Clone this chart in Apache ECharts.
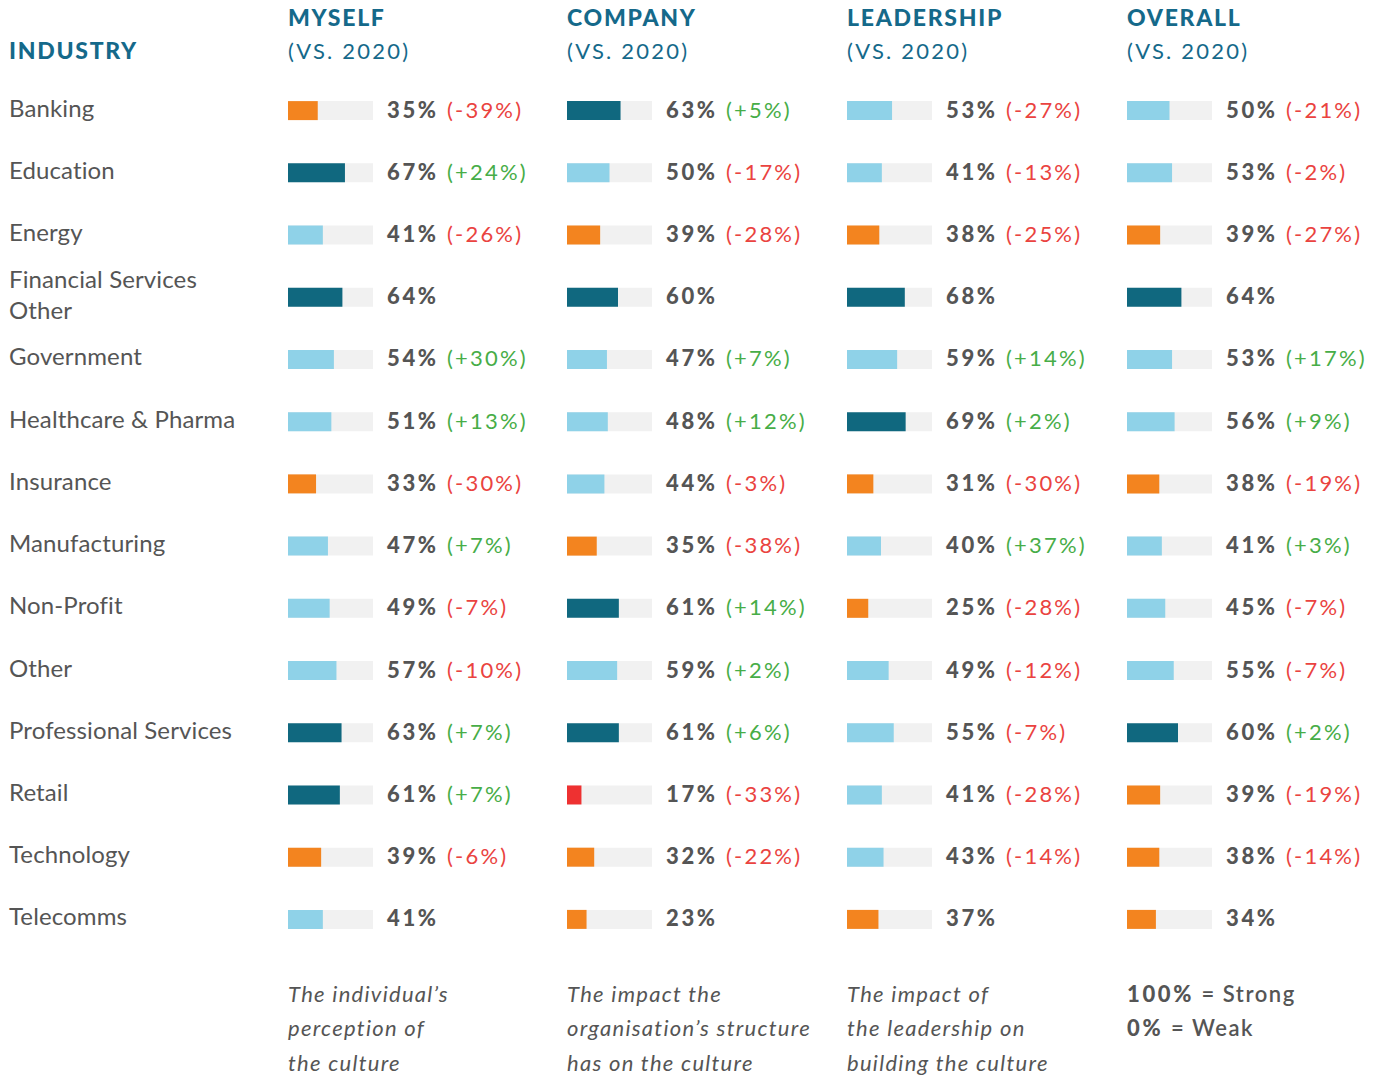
<!DOCTYPE html>
<html>
<head>
<meta charset="utf-8">
<script src="https://cdn.jsdelivr.net/npm/echarts@6/dist/echarts.min.js"></script>
<style>
  html, body { margin: 0; padding: 0; background: #fff; }
  #main { width: 1378px; height: 1077px; }
</style>
</head>
<body>
<div id="main"></div>
<script>
  // industries (row labels)
  var industries = ['Banking', 'Education', 'Energy', 'Financial Services\nOther', 'Government',
    'Healthcare & Pharma', 'Insurance', 'Manufacturing', 'Non-Profit', 'Other',
    'Professional Services', 'Retail', 'Technology', 'Telecomms'];

  var columns = ['MYSELF', 'COMPANY', 'LEADERSHIP', 'OVERALL'];

  var myself = [35, 67, 41, 64, 54, 51, 33, 47, 49, 57, 63, 61, 39, 41];
  var myselfChange = [-39, 24, -26, null, 30, 13, -30, 7, -7, -10, 7, 7, -6, null];

  var company = [63, 50, 39, 60, 47, 48, 44, 35, 61, 59, 61, 17, 32, 23];
  var companyChange = [5, -17, -28, null, 7, 12, -3, -38, 14, 2, 6, -33, -22, null];

  var leadership = [53, 41, 38, 68, 59, 69, 31, 40, 25, 49, 55, 41, 43, 37];
  var leadershipChange = [-27, -13, -25, null, 14, 2, -30, 37, -28, -12, -7, -28, -14, null];

  var overall = [50, 53, 39, 64, 53, 56, 38, 41, 45, 55, 60, 39, 38, 34];
  var overallChange = [-21, -2, -27, null, 17, 9, -19, 3, -7, -7, 2, -19, -14, null];

  var footnotes = [
    ['The individual\u2019s', 'perception of', 'the culture'],
    ['The impact the', 'organisation\u2019s structure', 'has on the culture'],
    ['The impact of', 'the leadership on', 'building the culture']
  ];

  var values = [myself, company, leadership, overall];
  var changes = [myselfChange, companyChange, leadershipChange, overallChange];

  var TEAL = '#15698a';
  var GREY = '#555555';

  function barColor(v) {
    if (v < 20) return '#ee3131';
    if (v < 40) return '#f3841f';
    if (v < 60) return '#8fd2e8';
    return '#10687f';
  }

  var chart = echarts.init(document.getElementById('main'), null, { renderer: 'svg' });

  var colX = [288, 567, 847, 1127];
  var grids = [], xAxes = [], yAxes = [], series = [], graphics = [];

  colX.forEach(function (x, i) {
    grids.push({ left: x, top: 79.5, width: 85, height: 871 });
    xAxes.push({ gridIndex: i, type: 'value', min: 0, max: 100, show: false });
    yAxes.push({
      gridIndex: i, type: 'category', inverse: true, data: industries, show: false
    });

    // grey track carrying the value label
    series.push({
      type: 'bar', xAxisIndex: i, yAxisIndex: i, barWidth: 19,
      silent: true, animation: false,
      itemStyle: { color: '#f1f1f1' },
      data: values[i].map(function () { return 100; }),
      label: {
        show: true, position: 'right', distance: 14, padding: [0, 0, 3, 0],
        formatter: function (p) {
          var v = values[i][p.dataIndex];
          var c = changes[i][p.dataIndex];
          var s = '{v|' + v + '%}';
          if (c !== null) {
            s += (c < 0 ? '{neg|(-' + Math.abs(c) + '%)}' : '{pos|(+' + c + '%)}');
          }
          return s;
        },
        rich: {
          v: { fontFamily: 'Lato', fontWeight: 900, fontSize: 22, color: GREY, width: 60 },
          neg: { fontFamily: 'Lato', fontWeight: 400, fontSize: 22, color: '#ea4340' },
          pos: { fontFamily: 'Lato', fontWeight: 400, fontSize: 22, color: '#47ad47' }
        }
      }
    });

    series.push({
      type: 'bar', xAxisIndex: i, yAxisIndex: i, barWidth: 19, barGap: '-100%',
      animation: false,
      data: values[i].map(function (v) {
        return { value: v, itemStyle: { color: barColor(v) } };
      })
    });

    graphics.push({
      type: 'text', x: x, y: 16.5,
      style: { text: columns[i], fill: TEAL, font: '900 23px Lato', verticalAlign: 'middle' }
    });
    graphics.push({
      type: 'text', x: x, y: 50,
      style: { text: '(VS. 2020)', fill: TEAL, font: '400 22px Lato', verticalAlign: 'middle' }
    });

    if (i < 3) {
      footnotes[i].forEach(function (line, k) {
        graphics.push({
          type: 'text', x: x, y: 993 + k * 34.5,
          style: { text: line, fill: GREY, font: 'italic 400 22px Lato', verticalAlign: 'middle' }
        });
      });
    }
  });

  // industry names: own axis, sits a few px higher than the bars
  grids.push({ left: 288, top: 76, width: 85, height: 871 });
  xAxes.push({ gridIndex: 4, type: 'value', min: 0, max: 100, show: false });
  yAxes.push({
    gridIndex: 4, type: 'category', inverse: true, data: industries,
    axisLine: { show: false }, axisTick: { show: false }, splitLine: { show: false },
    axisLabel: {
      show: true, align: 'left', margin: 279, color: GREY,
      fontFamily: 'Lato', fontSize: 24, lineHeight: 31
    }
  });

  graphics.push({
    type: 'text', x: 9, y: 49.5,
    style: { text: 'INDUSTRY', fill: TEAL, font: '900 23px Lato', verticalAlign: 'middle' }
  });
  [['100%', '= Strong', 18], ['0%', '= Weak', 13]].forEach(function (t, k) {
    graphics.push({
      type: 'text', x: 1127, y: 993 + k * 34.5,
      style: {
        text: '{b|' + t[0] + '}' + t[1], verticalAlign: 'middle',
        font: '600 22px Lato', fill: GREY,
        rich: { b: { fontFamily: 'Lato', fontWeight: 900, fontSize: 22, fill: GREY, padding: [0, t[2], 0, 0] } }
      }
    });
  });

  chart.setOption({
    backgroundColor: '#ffffff',
    animation: false,
    grid: grids,
    xAxis: xAxes,
    yAxis: yAxes,
    series: series,
    graphic: graphics
  });

  // the original typesetting is tracked out; widen letters a little
  function track() {
    document.querySelectorAll('#main text').forEach(function (t) {
      var cs = getComputedStyle(t);
      var size = parseFloat(cs.fontSize);
      var w = parseInt(cs.fontWeight, 10);
      var em;
      if (cs.fontStyle === 'italic') em = 0.058;
      else if (size > 23.5) em = 0.005;
      else if (w >= 800) em = size > 22.5 ? 0.075 : 0.12;
      else if (w >= 600) em = 0.07;
      else em = 0.1;
      t.setAttribute('letter-spacing', (em * size).toFixed(2));
    });
  }
  track();
  chart.on('finished', track);
</script>
</body>
</html>
